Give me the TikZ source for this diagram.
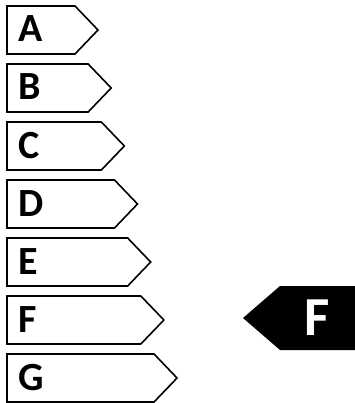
\documentclass[tikz,border=0pt]{standalone}
\usepackage{fontspec}
\setmainfont{Carlito}
\usetikzlibrary{positioning,calc}

\begin{document}
\begin{tikzpicture}[
  x=1pt,y=-1pt,
  band/.style={draw=black,line width=1.6pt,fill=white,line join=miter},
  pointer/.style={fill=black,draw=none},
  lbl/.style={font=\fontsize{40}{40}\selectfont\bfseries,anchor=base west,inner sep=0pt},
  biglbl/.style={font=\fontsize{55}{55}\selectfont\bfseries,text=white,anchor=base west,inner sep=0pt}
]
  \useasboundingbox (0,0) rectangle (354,403);

  % --- rating scale ---
  \foreach \l/\i in {A/0,B/1,C/2,D/3,E/4,F/5,G/6}{
    \pgfmathsetmacro{\tip}{98+13.17*\i}
    \pgfmathsetmacro{\top}{6+58*\i}
    \draw[band] (7,\top) -- ({\tip-23},\top) -- (\tip,{\top+24})
      -- ({\tip-23},{\top+48}) -- (7,{\top+48}) -- cycle;
    \node[lbl] (l\l) at (18,{\top+36}) {\l};
  }

  % --- current class ---
  \fill[pointer] (357,286) -- (280,286) -- (243,318) -- (280,350) -- (357,350) -- cycle;
  \node[biglbl] (ind) at (304,335) {F};

\end{tikzpicture}
\end{document}
